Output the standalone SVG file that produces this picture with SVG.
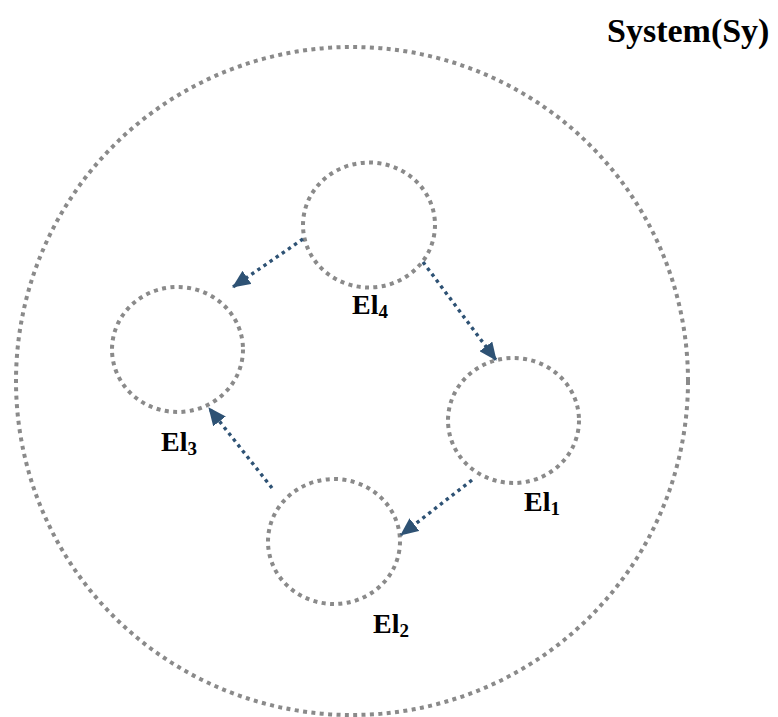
<svg xmlns="http://www.w3.org/2000/svg" width="778" height="717" viewBox="0 0 778 717">
  <defs>
    <style>
      .ring { fill: none; stroke: #8a8a8a; stroke-width: 4; stroke-dasharray: 4 4.4; }
      .flow { fill: none; stroke: #2e5274; stroke-width: 3.4; stroke-dasharray: 3.4 4; }
      .lbl { font-family: "Liberation Serif", "Times New Roman", serif; font-weight: bold; fill: #000; }
      .el { font-size: 28px; }
      .sys { font-size: 34px; }
      .sub { font-size: 19px; }
    </style>
    <marker id="head" markerUnits="userSpaceOnUse" markerWidth="18" markerHeight="16" viewBox="0 0 18 16" refX="17" refY="8" orient="auto">
      <path d="M0,0 L18,8 L0,16 Z" fill="#2e5274"/>
    </marker>
  </defs>

  <rect width="778" height="717" fill="#ffffff"/>

  <!-- system boundary -->
  <g id="system">
    <ellipse class="ring" cx="352" cy="381" rx="336" ry="334"/>
    <text class="lbl sys" x="607" y="42">System(Sy)</text>
  </g>

  <!-- elements -->
  <g id="el4">
    <ellipse class="ring" cx="369" cy="225" rx="66" ry="62.5"/>
    <text class="lbl el" x="352" y="314">El<tspan class="sub" dy="4">4</tspan></text>
  </g>
  <g id="el3">
    <ellipse class="ring" cx="177.5" cy="349.5" rx="65.5" ry="62.5"/>
    <text class="lbl el" x="161" y="451">El<tspan class="sub" dy="4">3</tspan></text>
  </g>
  <g id="el1">
    <ellipse class="ring" cx="513.5" cy="420.5" rx="65.5" ry="62.5"/>
    <text class="lbl el" x="524" y="511">El<tspan class="sub" dy="4">1</tspan></text>
  </g>
  <g id="el2">
    <ellipse class="ring" cx="334" cy="541.5" rx="66" ry="62.5"/>
    <text class="lbl el" x="373" y="633">El<tspan class="sub" dy="4">2</tspan></text>
  </g>

  <!-- connectors -->
  <g id="connectors">
    <line class="flow" x1="303" y1="239" x2="233" y2="287" marker-end="url(#head)"/>
    <line class="flow" x1="423" y1="262" x2="496" y2="360" marker-end="url(#head)"/>
    <line class="flow" x1="472" y1="480" x2="401" y2="535" marker-end="url(#head)"/>
    <line class="flow" x1="272" y1="488" x2="209" y2="408" marker-end="url(#head)"/>
  </g>
</svg>
